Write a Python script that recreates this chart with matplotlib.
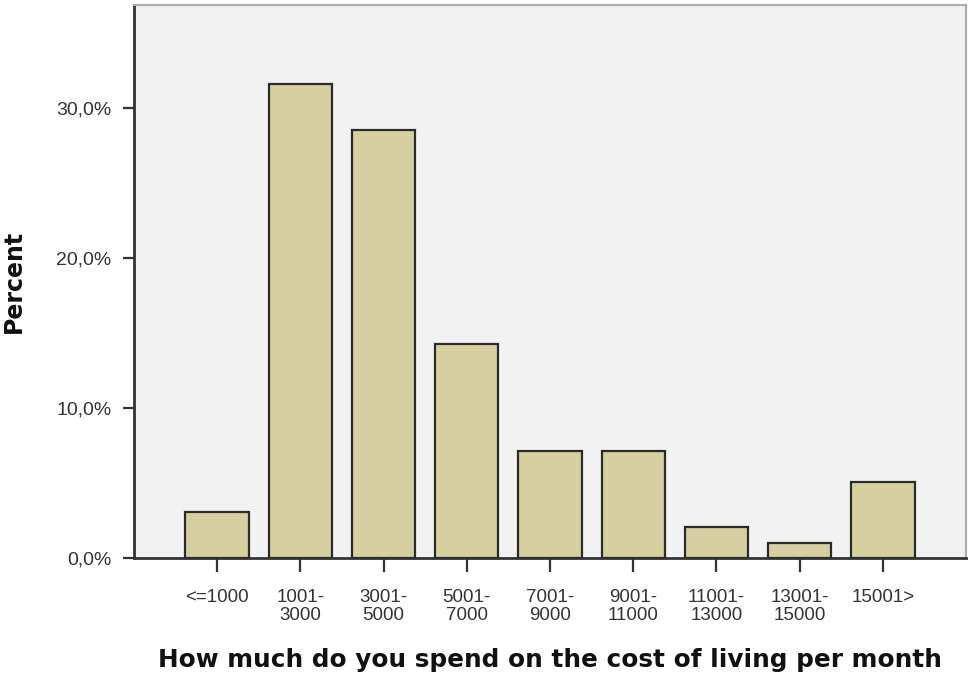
import matplotlib
matplotlib.use("Agg")
import matplotlib.pyplot as plt
from matplotlib.ticker import FuncFormatter

categories = ["<=1000", "1001-\n3000", "3001-\n5000", "5001-\n7000", "7001-\n9000",
              "9001-\n11000", "11001-\n13000", "13001-\n15000", "15001>"]
percent = [3.06, 31.63, 28.57, 14.29, 7.14, 7.14, 2.04, 1.02, 5.10]
yticks = [0, 10, 20, 30]

fig = plt.figure(figsize=(9.7, 6.78), dpi=100)
ax = fig.add_axes([0.138, 0.177, 0.858, 0.8156])
ax.set_facecolor("#F2F2F2")

x = list(range(len(categories)))
ax.bar(x, percent, width=0.76, color="#D6D0A0", edgecolor="#2b2b2b", linewidth=1.6, zorder=3)

ax.set_xlim(-1, 9)
ax.set_ylim(0, 36.9)
ax.set_yticks(yticks)
ax.yaxis.set_major_formatter(FuncFormatter(lambda v, p: f"{v:.1f}%".replace(".", ",")))
ax.set_xticks(x)
ax.set_xticklabels(categories, fontfamily="Liberation Sans", fontsize=13.5, linespacing=1.15)
for lab in ax.get_yticklabels():
    lab.set_fontfamily("Liberation Sans")
    lab.set_fontsize(14)

ax.tick_params(axis="y", length=8, width=1.6, color="#333333", pad=8, labelcolor="#333333")
ax.tick_params(axis="x", length=10, width=1.6, color="#333333", pad=12, labelcolor="#333333")

for s in ["left", "bottom"]:
    ax.spines[s].set_color("#333333")
    ax.spines[s].set_linewidth(2)
for s in ["top", "right"]:
    ax.spines[s].set_color("#aaaaaa")
    ax.spines[s].set_linewidth(1.5)

ax.set_xlabel("How much do you spend on the cost of living per month",
              fontfamily="DejaVu Sans", fontweight="bold", fontsize=17.8, labelpad=17, color="#111111")
ax.set_ylabel("Percent", fontfamily="DejaVu Sans", fontweight="bold", fontsize=17, labelpad=22, color="#111111")

fig.savefig("out.png", dpi=100)
